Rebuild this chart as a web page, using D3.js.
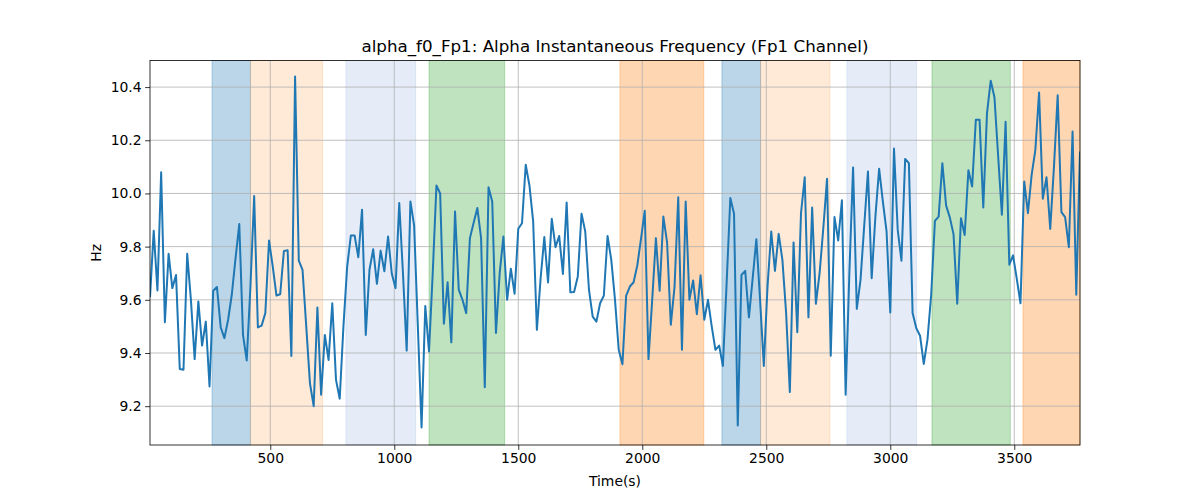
<!DOCTYPE html>
<html>
<head>
<meta charset="utf-8">
<script src="https://cdn.jsdelivr.net/npm/d3@7"></script>
<style>
  body { margin: 0; background: #fff; }
  svg { font-family: "DejaVu Sans", sans-serif; }
</style>
</head>
<body>
<svg id="chart" width="1200" height="500"></svg>
<script>
const title = "alpha_f0_Fp1: Alpha Instantaneous Frequency (Fp1 Channel)";
const xLabel = "Time(s)";
const yLabel = "Hz";
const tStart = 15;
const tStep = 15;
const freq = [
  9.61, 9.86, 9.635, 10.08, 9.516, 9.773, 9.644, 9.693, 9.34, 9.337,
  9.773, 9.6, 9.377, 9.594, 9.428, 9.518, 9.274, 9.634, 9.648, 9.497,
  9.456, 9.525, 9.621, 9.757, 9.885, 9.468, 9.372, 9.65, 9.99, 9.496,
  9.503, 9.55, 9.823, 9.725, 9.616, 9.621, 9.784, 9.786, 9.389, 10.44,
  9.747, 9.713, 9.5, 9.286, 9.20, 9.571, 9.243, 9.468, 9.374, 9.587,
  9.299, 9.228, 9.5, 9.725, 9.842, 9.842, 9.76, 9.939, 9.468, 9.713,
  9.79, 9.66, 9.785, 9.707, 9.838, 9.698, 9.644, 9.964, 9.7, 9.409,
  9.970, 9.88, 9.5, 9.12, 9.577, 9.406, 9.7, 10.03, 10.0, 9.51,
  9.666, 9.44, 9.932, 9.638, 9.6, 9.55, 9.832, 9.89, 9.945, 9.832,
  9.271, 10.023, 9.97, 9.475, 9.7, 9.838, 9.60, 9.717, 9.623, 9.867,
  9.888, 10.108, 10.03, 9.895, 9.487, 9.68, 9.836, 9.665, 9.905, 9.798,
  9.84, 9.697, 9.966, 9.628, 9.629, 9.688, 9.924, 9.857, 9.638, 9.537,
  9.518, 9.587, 9.616, 9.84, 9.75, 9.6, 9.412, 9.358, 9.616, 9.65,
  9.666, 9.73, 9.83, 9.935, 9.377, 9.6, 9.832, 9.634, 9.913, 9.816,
  9.506, 9.648, 9.986, 9.412, 9.97, 9.6, 9.673, 9.546, 9.692, 9.525,
  9.6, 9.5, 9.412, 9.428, 9.351, 9.66, 9.983, 9.924, 9.127, 9.694,
  9.709, 9.534, 9.68, 9.828, 9.6, 9.351, 9.65, 9.857, 9.709, 9.848,
  9.75, 9.55, 9.253, 9.816, 9.478, 9.926, 10.061, 9.534, 9.947, 9.585,
  9.7, 9.87, 10.055, 9.39, 9.911, 9.823, 9.974, 9.243, 9.7, 10.098,
  9.566, 9.675, 9.88, 10.083, 9.681, 9.913, 10.093, 9.97, 9.857, 9.552,
  10.169, 9.863, 9.747, 10.13, 10.114, 9.55, 9.493, 9.465, 9.359, 9.45,
  9.62, 9.897, 9.913, 10.114, 9.955, 9.91, 9.847, 9.585, 9.907, 9.844,
  10.087, 10.026, 10.277, 10.277, 9.947, 10.302, 10.424, 10.362, 10.14, 9.92,
  10.27, 9.732, 9.767, 9.68, 9.587, 10.045, 9.926, 10.07, 10.164, 10.38,
  9.98, 10.061, 9.867, 10.1, 10.369, 9.93, 9.911, 9.798, 10.233, 9.619,
  10.158
];
const times = freq.map((_, i) => tStart + i * tStep);

const bandStarts = [265, 420, 805, 1140, 1910, 2321, 2477, 2825, 3168, 3535];
const bandEnds   = [420, 711, 1086, 1445, 2248, 2477, 2757, 3106, 3484, 3765];
const bandKinds  = ["blue", "peach", "lavender", "green", "orange", "blue", "peach", "lavender", "green", "orange"];
const bandFill = {
  blue: ["#1f77b4", 0.3],
  peach: ["#ff7f0e", 0.16],
  lavender: ["#6f98d6", 0.18],
  green: ["#2ca02c", 0.3],
  orange: ["#ff7f0e", 0.32]
};

const xTicks = [500, 1000, 1500, 2000, 2500, 3000, 3500];
const yTicks = [9.2, 9.4, 9.6, 9.8, 10.0, 10.2, 10.4];

const margin = {left: 150, top: 60.5, right: 1080, bottom: 445};
const svg = d3.select("#chart");
const x = d3.scaleLinear().domain([15, 3765]).range([margin.left, margin.right]);
const y = d3.scaleLinear().domain([9.054, 10.5]).range([margin.bottom, margin.top]);

// bands
const bands = bandStarts.map((s, i) => ({s, e: bandEnds[i], k: bandKinds[i]}));
svg.append("g").selectAll("rect").data(bands).enter().append("rect")
  .attr("x", d => x(d.s))
  .attr("y", margin.top)
  .attr("width", d => x(Math.min(d.e, 3765)) - x(d.s))
  .attr("height", margin.bottom - margin.top)
  .attr("fill", d => bandFill[d.k][0])
  .attr("fill-opacity", d => bandFill[d.k][1])
  .attr("stroke", d => bandFill[d.k][0])
  .attr("stroke-opacity", d => bandFill[d.k][1])
  .attr("stroke-width", 1);

// grid
const grid = svg.append("g");
grid.selectAll("line.gx").data(xTicks).enter().append("line")
  .attr("x1", d => x(d)).attr("x2", d => x(d))
  .attr("y1", margin.top).attr("y2", margin.bottom)
  .attr("stroke", "#b0b0b0").attr("stroke-width", 0.8);
grid.selectAll("line.gy").data(yTicks).enter().append("line")
  .attr("y1", d => y(d)).attr("y2", d => y(d))
  .attr("x1", margin.left).attr("x2", margin.right)
  .attr("stroke", "#b0b0b0").attr("stroke-width", 0.8);

// line
const clip = svg.append("clipPath").attr("id", "clip").append("rect")
  .attr("x", margin.left).attr("y", margin.top)
  .attr("width", margin.right - margin.left).attr("height", margin.bottom - margin.top);
const line = d3.line().x((d, i) => x(times[i])).y(d => y(d));
svg.append("path").datum(freq)
  .attr("d", line)
  .attr("fill", "none")
  .attr("stroke", "#1f77b4")
  .attr("stroke-width", 2)
  .attr("stroke-linejoin", "round")
  .attr("clip-path", "url(#clip)");

// axes
const xAxis = d3.axisBottom(x).tickValues(xTicks).tickFormat(d3.format("d")).tickSizeOuter(0).tickSize(4.9).tickPadding(3.5);
const yAxis = d3.axisLeft(y).tickValues(yTicks).tickFormat(d3.format(".1f")).tickSizeOuter(0).tickSize(4.9).tickPadding(3.5);
const gx = svg.append("g").attr("transform", `translate(0,${margin.bottom})`).call(xAxis);
const gy = svg.append("g").attr("transform", `translate(${margin.left},0)`).call(yAxis);
[gx, gy].forEach(g => {
  g.select(".domain").remove();
  g.selectAll("text").attr("font-size", "13.9px").attr("fill", "#000").attr("font-family", "DejaVu Sans");
  g.selectAll("line").attr("stroke", "#000").attr("stroke-width", 0.8);
});

// frame
svg.append("rect")
  .attr("x", margin.left).attr("y", margin.top)
  .attr("width", margin.right - margin.left).attr("height", margin.bottom - margin.top)
  .attr("fill", "none").attr("stroke", "#000").attr("stroke-width", 0.8);

// labels
svg.append("text").attr("x", (margin.left + margin.right) / 2).attr("y", 52)
  .attr("text-anchor", "middle").attr("font-size", "16.7px").text(title);
svg.append("text").attr("x", (margin.left + margin.right) / 2).attr("y", 486)
  .attr("text-anchor", "middle").attr("font-size", "13.9px").text(xLabel);
svg.append("text").attr("transform", `translate(101,${(margin.top + margin.bottom) / 2}) rotate(-90)`)
  .attr("text-anchor", "middle").attr("font-size", "13.9px").text(yLabel);
</script>
</body>
</html>
